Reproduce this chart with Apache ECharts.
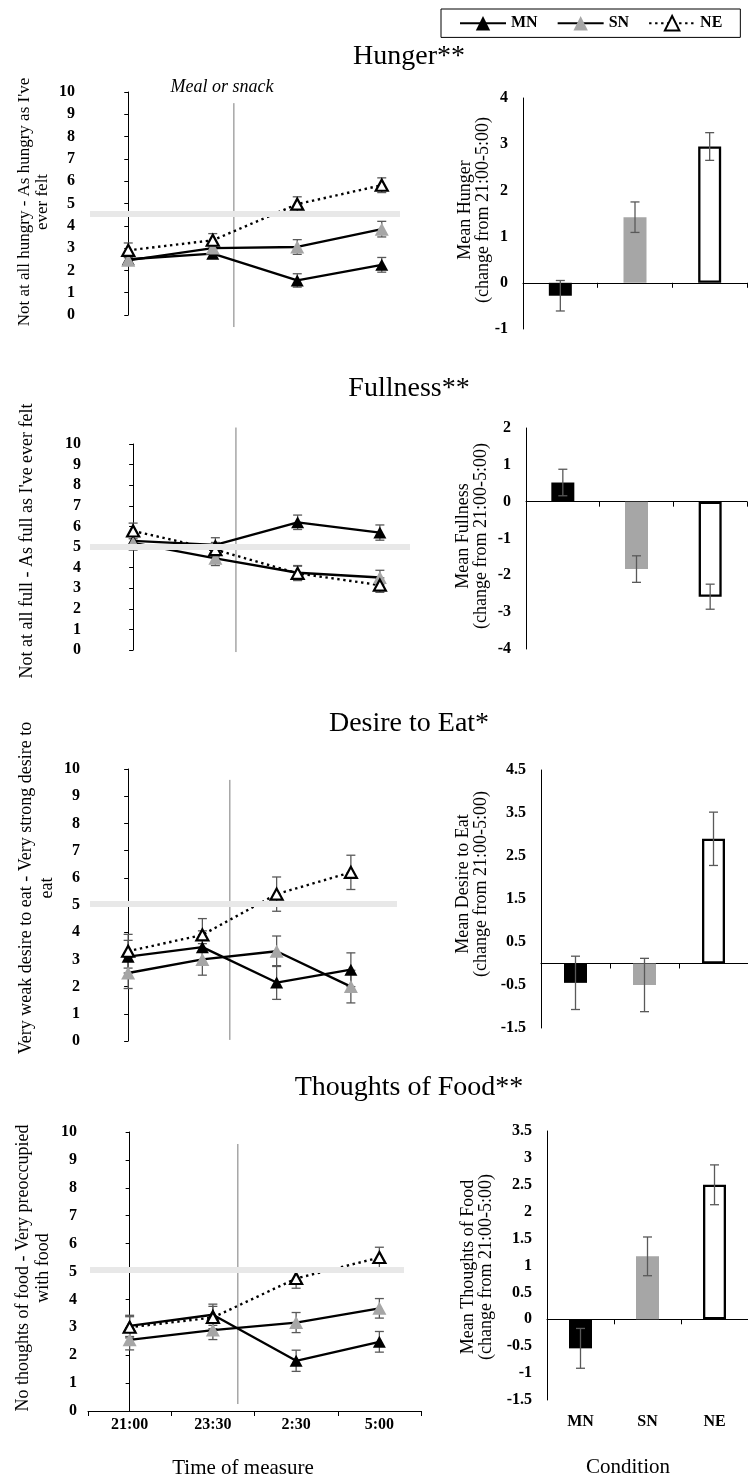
<!DOCTYPE html>
<html>
<head>
<meta charset="utf-8">
<script src="https://cdn.jsdelivr.net/npm/echarts@6/dist/echarts.min.js"></script>
<style>
  html, body { margin: 0; padding: 0; background: #fff; }
  #chart { width: 748px; height: 1479px; }
</style>
</head>
<body>
<div id="chart"></div>
<script>
// ---- data -------------------------------------------------------------
const times = ['21:00', '23:30', '2:30', '5:00'];
const conditions = ['MN', 'SN', 'NE'];

// Hunger ratings (0-10) by time, with SEM
const hungerMN = [2.5, 2.75, 1.55, 2.25];
const hungerMNErr = [0.25, 0.2, 0.3, 0.33];
const hungerSN = [2.45, 3.0, 3.05, 3.85];
const hungerSNErr = [0.2, 0.2, 0.33, 0.35];
const hungerNE = [2.9, 3.35, 4.97, 5.82];
const hungerNEErr = [0.33, 0.3, 0.33, 0.33];
const hungerBand = 4.55;
const hungerChange = [-0.28, 1.42, 2.95];
const hungerChangeErr = [0.33, 0.33, 0.3];

// Fullness ratings
const fullnessMN = [5.3, 5.1, 6.2, 5.7];
const fullnessMNErr = [0.35, 0.35, 0.35, 0.37];
const fullnessSN = [5.2, 4.45, 3.75, 3.52];
const fullnessSNErr = [0.35, 0.35, 0.35, 0.35];
const fullnessNE = [5.78, 4.87, 3.72, 3.15];
const fullnessNEErr = [0.38, 0.35, 0.35, 0.35];
const fullnessBand = 5.0;
const fullnessChange = [0.52, -1.83, -2.58];
const fullnessChangeErr = [0.36, 0.36, 0.34];

// Desire to eat ratings
const desireMN = [3.1, 3.45, 2.15, 2.62];
const desireMNErr = [0.6, 0.6, 0.62, 0.62];
const desireSN = [2.5, 3.0, 3.3, 2.0];
const desireSNErr = [0.57, 0.58, 0.56, 0.6];
const desireNE = [3.3, 3.9, 5.4, 6.2];
const desireNEErr = [0.62, 0.6, 0.63, 0.63];
const desireBand = 5.05;
const desireChange = [-0.45, -0.5, 2.9];
const desireChangeErr = [0.62, 0.62, 0.62];

// Thoughts of food ratings
const thoughtsMN = [3.05, 3.45, 1.8, 2.48];
const thoughtsMNErr = [0.38, 0.38, 0.38, 0.37];
const thoughtsSN = [2.55, 2.9, 3.17, 3.68];
const thoughtsSNErr = [0.36, 0.34, 0.36, 0.35];
const thoughtsNE = [3.0, 3.35, 4.75, 5.5];
const thoughtsNEErr = [0.38, 0.4, 0.35, 0.37];
const thoughtsBand = 5.05;
const thoughtsChange = [-0.54, 1.17, 2.5];
const thoughtsChangeErr = [0.37, 0.36, 0.37];

// ---- styling ----------------------------------------------------------
const FONT = '"Liberation Serif", "Times New Roman", serif';
const ERR_COLOR = '#595959';
const GRAY = '#a6a6a6';

const seriesStyle = {
  MN: { symbolSize: [13, 12], item: { color: '#000' }, line: { color: '#000', width: 2.3, type: 'solid' } },
  SN: { symbolSize: [14, 13], item: { color: GRAY }, line: { color: '#000', width: 2.3, type: 'solid' } },
  NE: { symbolSize: [12, 11], item: { color: '#fff', borderColor: '#000', borderWidth: 2.2 },
        line: { color: '#000', width: 2.4, type: [2.4, 3.6] } }
};
const barItemStyle = [
  { color: '#000' },
  { color: GRAY },
  { color: '#fff', borderColor: '#000', borderWidth: 2.3 }
];

// ---- panel layout -----------------------------------------------------
const panels = [
  {
    title: 'Hunger**', titleY: 57,
    lineName: "Not at all hungry - As hungry as I've\never felt", lineNameX: 34, lineNameY: 202, lineNameSize: 17, lineNameLH: 18,
    barName: 'Mean Hunger\n(change from 21:00-5:00)', barNameX: 474, barNameY: 210,
    lineGrid: { left: 86, top: 92, width: 338, height: 223 },
    barGrid: { left: 523, top: 98, width: 224, height: 231 },
    lines: { MN: [hungerMN, hungerMNErr], SN: [hungerSN, hungerSNErr], NE: [hungerNE, hungerNEErr] },
    band: hungerBand, bandX: [90, 400],
    meal: [1.25, 9.5, -0.54],
    change: hungerChange, changeErr: hungerChangeErr, barMin: -1, barMax: 4, barStep: 1,
    timeAxis: false, condAxis: false
  },
  {
    title: 'Fullness**', titleY: 389,
    lineName: "Not at all full - As full as I've ever felt", lineNameX: 27, lineNameY: 541, lineNameSize: 18, lineNameLH: 18,
    barName: 'Mean Fullness\n(change from 21:00-5:00)', barNameX: 472, barNameY: 536,
    lineGrid: { left: 92, top: 444, width: 329, height: 206 },
    barGrid: { left: 526, top: 428, width: 221, height: 221 },
    lines: { MN: [fullnessMN, fullnessMNErr], SN: [fullnessSN, fullnessSNErr], NE: [fullnessNE, fullnessNEErr] },
    band: fullnessBand, bandX: [90, 410],
    meal: [1.25, 10.8, -0.1],
    change: fullnessChange, changeErr: fullnessChangeErr, barMin: -4, barMax: 2, barStep: 1,
    timeAxis: false, condAxis: false
  },
  {
    title: 'Desire to Eat*', titleY: 724,
    lineName: 'Very weak desire to eat - Very strong desire to\neat', lineNameX: 37, lineNameY: 888, lineNameSize: 18, lineNameLH: 21,
    barName: 'Mean Desire to Eat\n(change from 21:00-5:00)', barNameX: 472, barNameY: 884,
    lineGrid: { left: 91, top: 769, width: 297, height: 272 },
    barGrid: { left: 541, top: 770, width: 207, height: 258 },
    lines: { MN: [desireMN, desireMNErr], SN: [desireSN, desireSNErr], NE: [desireNE, desireNEErr] },
    band: desireBand, bandX: [90, 397],
    meal: [1.37, 9.6, 0.04],
    change: desireChange, changeErr: desireChangeErr, barMin: -1.5, barMax: 4.5, barStep: 1,
    timeAxis: false, condAxis: false
  },
  {
    title: 'Thoughts of Food**', titleY: 1088,
    lineName: 'No thoughts of food - Very preoccupied\nwith food', lineNameX: 33, lineNameY: 1268, lineNameSize: 18, lineNameLH: 20,
    barName: 'Mean Thoughts of Food\n(change from 21:00-5:00)', barNameX: 477, barNameY: 1267,
    lineGrid: { left: 88, top: 1132, width: 333, height: 279 },
    barGrid: { left: 547, top: 1131, width: 201, height: 269 },
    lines: { MN: [thoughtsMN, thoughtsMNErr], SN: [thoughtsSN, thoughtsSNErr], NE: [thoughtsNE, thoughtsNEErr] },
    band: thoughtsBand, bandX: [90, 404],
    meal: [1.3, 9.57, 0.25],
    change: thoughtsChange, changeErr: thoughtsChangeErr, barMin: -1.5, barMax: 3.5, barStep: 0.5,
    timeAxis: true, condAxis: true
  }
];

// ---- helpers ----------------------------------------------------------
const tickFont = { fontFamily: FONT, fontWeight: 'bold', fontSize: 16, color: '#000' };

function errorBars(capHalf) {
  return function (params, api) {
    const x = api.value(0), v = api.value(1), e = api.value(2);
    const hi = api.coord([x, v + e]);
    const lo = api.coord([x, v - e]);
    const style = { stroke: ERR_COLOR, lineWidth: 1.3 };
    return {
      type: 'group',
      children: [
        { type: 'line', shape: { x1: hi[0], y1: hi[1], x2: lo[0], y2: lo[1] }, style },
        { type: 'line', shape: { x1: hi[0] - capHalf, y1: hi[1], x2: hi[0] + capHalf, y2: hi[1] }, style },
        { type: 'line', shape: { x1: lo[0] - capHalf, y1: lo[1], x2: lo[0] + capHalf, y2: lo[1] }, style }
      ]
    };
  };
}

function text(x, y, str, size, opts) {
  opts = opts || {};
  return {
    type: 'text', x: x, y: y, silent: true,
    rotation: opts.rotate ? Math.PI / 2 : 0,
    style: {
      text: str, fill: '#000', fontFamily: FONT, fontSize: size,
      fontStyle: opts.italic ? 'italic' : 'normal',
      fontWeight: opts.bold ? 'bold' : 'normal',
      align: 'center', verticalAlign: 'middle',
      lineHeight: opts.lh || size
    }
  };
}

// ---- build option -----------------------------------------------------
const grids = [], xAxes = [], yAxes = [], series = [], graphics = [];

panels.forEach(function (p) {
  const lg = grids.length; grids.push(p.lineGrid);
  const bg = grids.length; grids.push(p.barGrid);

  // time axis of the rating chart
  const lx = xAxes.length;
  xAxes.push({
    type: 'category', gridIndex: lg, data: times, boundaryGap: true, position: 'bottom',
    show: p.timeAxis,
    axisLine: { show: true, onZero: false, lineStyle: { color: '#000', width: 1 } },
    axisTick: { show: true, length: 5, lineStyle: { color: '#000' } },
    axisLabel: Object.assign({ margin: 6 }, tickFont)
  });
  // continuous helper axis used to place the meal marker between time points
  const mx = xAxes.length;
  xAxes.push({ type: 'value', gridIndex: lg, min: -0.5, max: 3.5, show: false, position: 'top' });

  // condition axis of the change chart, crossing at zero
  const bx = xAxes.length;
  xAxes.push({
    type: 'category', gridIndex: bg, data: conditions, position: 'bottom',
    axisLine: { show: true, onZero: true, lineStyle: { color: '#000', width: 1 } },
    axisTick: { show: true, length: 5, lineStyle: { color: '#000' } },
    axisLabel: { show: false }
  });
  if (p.condAxis) {
    xAxes.push({
      type: 'category', gridIndex: bg, data: conditions, position: 'bottom',
      axisLine: { show: false, onZero: false }, axisTick: { show: false },
      axisLabel: Object.assign({ margin: 14 }, tickFont)
    });
  }

  const ly = yAxes.length;
  yAxes.push({
    type: 'value', gridIndex: lg, min: 0, max: 10, interval: 1,
    axisLine: { show: true, lineStyle: { color: '#000', width: 1 } },
    axisTick: { show: true, length: 4, lineStyle: { color: '#000' } },
    splitLine: { show: false },
    axisLabel: Object.assign({ margin: 11 }, tickFont)
  });
  const by = yAxes.length;
  yAxes.push({
    type: 'value', gridIndex: bg, min: p.barMin, max: p.barMax, interval: p.barStep,
    axisLine: { show: true, onZero: false, lineStyle: { color: '#000', width: 1 } },
    axisTick: { show: false },
    splitLine: { show: false },
    axisLabel: Object.assign({ margin: 15 }, tickFont)
  });

  // meal marker and reference band
  series.push({
    type: 'custom', name: 'meal', xAxisIndex: mx, yAxisIndex: ly, z: 1, clip: false, silent: true,
    data: [p.meal],
    renderItem: function (params, api) {
      const a = api.coord([api.value(0), api.value(1)]);
      const b = api.coord([api.value(0), api.value(2)]);
      return { type: 'line', shape: { x1: a[0], y1: a[1], x2: b[0], y2: b[1] }, style: { stroke: '#7a7a7a', lineWidth: 1 } };
    },
    markLine: {
      silent: true, symbol: 'none', label: { show: false }, animation: false,
      lineStyle: { color: '#e8e8e8', width: 6, type: 'solid' },
      data: [[{ yAxis: p.band, x: p.bandX[0] }, { yAxis: p.band, x: p.bandX[1] }]]
    }
  });

  // ratings over time
  ['MN', 'SN', 'NE'].forEach(function (key) {
    const vals = p.lines[key][0], errs = p.lines[key][1];
    const st = seriesStyle[key];
    series.push({
      type: 'custom', name: key + ' SEM', xAxisIndex: lx, yAxisIndex: ly, z: 1.5, silent: true,
      data: vals.map(function (v, i) { return [i, v, errs[i]]; }),
      renderItem: errorBars(4.5)
    });
    series.push({
      type: 'line', name: key, xAxisIndex: lx, yAxisIndex: ly, data: vals,
      symbol: 'triangle', symbolSize: st.symbolSize, showAllSymbol: true,
      itemStyle: st.item, lineStyle: st.line, z: 2, silent: true
    });
  });

  // change from 21:00 to 5:00
  series.push({
    type: 'bar', name: 'change', xAxisIndex: bx, yAxisIndex: by, barWidth: 23, silent: true,
    data: p.change.map(function (v, i) { return { value: v, itemStyle: barItemStyle[i] }; })
  });
  series.push({
    type: 'custom', name: 'change SEM', xAxisIndex: bx, yAxisIndex: by, z: 3, silent: true,
    data: p.change.map(function (v, i) { return [i, v, p.changeErr[i]]; }),
    renderItem: errorBars(4.5)
  });

  // texts
  graphics.push(text(409, p.titleY, p.title, 28));
  graphics.push(text(p.lineNameX, p.lineNameY, p.lineName, p.lineNameSize, { rotate: true, lh: p.lineNameLH }));
  graphics.push(text(p.barNameX, p.barNameY, p.barName, 18, { rotate: true, lh: 18 }));
});

graphics.push(text(222, 87, 'Meal or snack', 18, { italic: true }));
graphics.push(text(243, 1468, 'Time of measure', 21));
graphics.push(text(628, 1467, 'Condition', 21));

const option = {
  animation: false,
  backgroundColor: '#fff',
  legend: {
    data: ['MN', 'SN', 'NE'],
    left: 441, top: 9,
    orient: 'horizontal',
    padding: [6, 18, 6, 18],
    itemGap: 19, itemWidth: 46, itemHeight: 18,
    borderColor: '#000', borderWidth: 1,
    selectedMode: false,
    textStyle: { fontFamily: FONT, fontWeight: 'bold', fontSize: 16, color: '#000' }
  },
  grid: grids,
  xAxis: xAxes,
  yAxis: yAxes,
  series: series,
  graphic: graphics
};

const chart = echarts.init(document.getElementById('chart'), null, { renderer: 'canvas', width: 748, height: 1479 });
chart.setOption(option);
</script>
</body>
</html>
